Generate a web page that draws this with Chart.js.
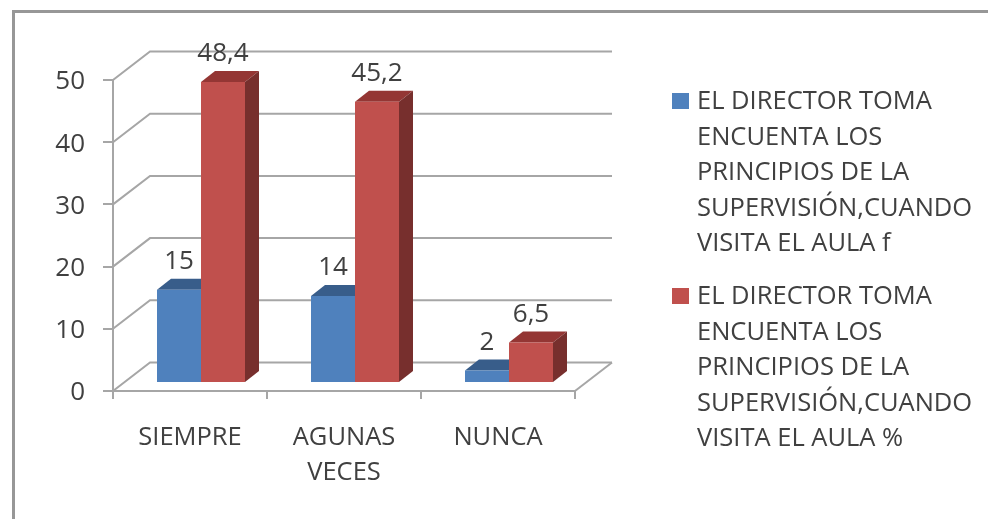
<!DOCTYPE html>
<html>
<head>
<meta charset="utf-8">
<script src="https://cdn.jsdelivr.net/npm/chart.js@4"></script>
<style>
  html, body { margin: 0; padding: 0; background: #fff; }
  #page { position: relative; width: 988px; height: 519px; overflow: hidden; filter: blur(0.7px); }
  #frame { position: absolute; left: 12px; top: 10px; width: 980px; height: 520px; border-left: 3px solid #979797; border-top: 3px solid #979797; }
  #chart { position: absolute; left: 0; top: 0; }
  #legend { position: absolute; left: 672px; top: 0; font-family: "Open Sans", sans-serif; font-size: 25.5px; color: #404040; }
  .item { position: absolute; left: 0; white-space: nowrap; line-height: 35.5px; }
  .box { position: absolute; left: 0; top: 11px; width: 17px; height: 16px; }
  .text { margin-left: 25px; }
</style>
</head>
<body>
<div id="page">
  <div id="frame"></div>
  <canvas id="chart" width="988" height="519"></canvas>
  <div id="legend"></div>
</div>
<script>
// Data
const categories = ['SIEMPRE', ['AGUNAS', 'VECES'], 'NUNCA'];
const frecuencia = [15, 14, 2];
const porcentaje = [48.4, 45.2, 6.5];
const yTicks = [0, 10, 20, 30, 40, 50];
const legendLinesF = ['EL DIRECTOR TOMA', 'ENCUENTA LOS', 'PRINCIPIOS DE LA', 'SUPERVISIÓN,CUANDO', 'VISITA EL AULA f'];
const legendLinesP = ['EL DIRECTOR TOMA', 'ENCUENTA LOS', 'PRINCIPIOS DE LA', 'SUPERVISIÓN,CUANDO', 'VISITA EL AULA %'];

const textColor = '#404040';
const gridColor = '#a6a6a6';
const fontFamily = '"Open Sans", sans-serif';

// Depth of the fake 3D box and of the bars inside it
const wallDx = 37, wallDy = 28.5;
const barOffsetX = 11, barOffsetY = 8;
const barDepthX = 14, barDepthY = 11;

function face(ctx, points, color) {
    ctx.fillStyle = color;
    ctx.beginPath();
    points.forEach((p, i) => i ? ctx.lineTo(p[0], p[1]) : ctx.moveTo(p[0], p[1]));
    ctx.closePath();
    ctx.fill();
}

const box3d = {
    id: 'box3d',
    beforeDatasetsDraw(chart) {
        const { ctx, chartArea, scales } = chart;

        // Back wall lines and floor edge
        ctx.save();
        ctx.strokeStyle = gridColor;
        ctx.lineWidth = 2;
        yTicks.forEach(v => {
            const y = scales.y.getPixelForValue(v);
            ctx.beginPath();
            ctx.moveTo(chartArea.left, y);
            ctx.lineTo(chartArea.left + wallDx, y - wallDy);
            ctx.lineTo(chartArea.right + wallDx, y - wallDy);
            ctx.stroke();
        });
        const y0 = scales.y.getPixelForValue(0);
        ctx.beginPath();
        ctx.moveTo(chartArea.right, y0);
        ctx.lineTo(chartArea.right + wallDx, y0 - wallDy);
        ctx.stroke();
        ctx.restore();

        // Bars sit a little inside the box, fronts are drawn by Chart.js after this
        ctx.save();
        ctx.translate(barOffsetX, -barOffsetY);
        chart.data.datasets.forEach((ds, i) => {
            chart.getDatasetMeta(i).data.forEach(bar => {
                const l = bar.x - bar.width / 2, r = bar.x + bar.width / 2;
                face(ctx, [[l, bar.y], [l + barDepthX, bar.y - barDepthY], [r + barDepthX, bar.y - barDepthY], [r, bar.y]], ds.topColor);
                face(ctx, [[r, bar.y], [r + barDepthX, bar.y - barDepthY], [r + barDepthX, bar.base - barDepthY], [r, bar.base]], ds.sideColor);
            });
        });
    },
    afterDatasetsDraw(chart) {
        const { ctx } = chart;
        ctx.restore();

        // Value labels
        ctx.save();
        ctx.font = '26px ' + fontFamily;
        ctx.fillStyle = textColor;
        ctx.textAlign = 'center';
        ctx.textBaseline = 'middle';
        chart.data.datasets.forEach((ds, i) => {
            chart.getDatasetMeta(i).data.forEach((bar, j) => {
                ctx.fillText(String(ds.data[j]).replace('.', ','), bar.x + barOffsetX, bar.y - barOffsetY - 28);
            });
        });
        ctx.restore();
    }
};

const barShape = { categoryPercentage: 88 / 154, barPercentage: 1, clip: false };

const chart = new Chart(document.getElementById('chart'), {
    type: 'bar',
    data: {
        labels: categories,
        datasets: [
            { label: legendLinesF.join(' '), data: frecuencia, backgroundColor: '#4f81bd', topColor: '#385d8a', sideColor: '#2f4f75', ...barShape },
            { label: legendLinesP.join(' '), data: porcentaje, backgroundColor: '#c0504d', topColor: '#943634', sideColor: '#772f2d', ...barShape }
        ]
    },
    options: {
        responsive: false,
        animation: false,
        layout: { padding: { top: 80, right: 413, left: 0, bottom: 0 } },
        plugins: { legend: { display: false }, tooltip: { enabled: false } },
        scales: {
            x: {
                afterFit: s => { s.height = 128; },
                grid: { offset: true, drawOnChartArea: false, color: gridColor, lineWidth: 2, tickLength: 8 },
                border: { color: gridColor, width: 2 },
                ticks: { color: textColor, font: { family: fontFamily, size: 25.5, lineHeight: 1.37 }, padding: 21, maxRotation: 0, autoSkip: false }
            },
            y: {
                min: 0,
                max: 50,
                afterFit: s => { s.width = 113; },
                grid: { drawOnChartArea: false, color: gridColor, lineWidth: 2, tickLength: 10 },
                border: { color: gridColor, width: 2 },
                ticks: { stepSize: 10, color: textColor, font: { family: fontFamily, size: 26 }, padding: 18, labelOffset: 2 }
            }
        }
    },
    plugins: [box3d]
});

// Legend with the same wrapped lines as the reference
const legendEl = document.getElementById('legend');
[[legendLinesF, 82], [legendLinesP, 277]].forEach((entry, i) => {
    const item = document.createElement('div');
    item.className = 'item';
    item.style.top = entry[1] + 'px';
    const box = document.createElement('div');
    box.className = 'box';
    box.style.background = chart.data.datasets[i].backgroundColor;
    const text = document.createElement('div');
    text.className = 'text';
    text.innerHTML = entry[0].join('<br>');
    item.appendChild(box);
    item.appendChild(text);
    legendEl.appendChild(item);
});
</script>
</body>
</html>
